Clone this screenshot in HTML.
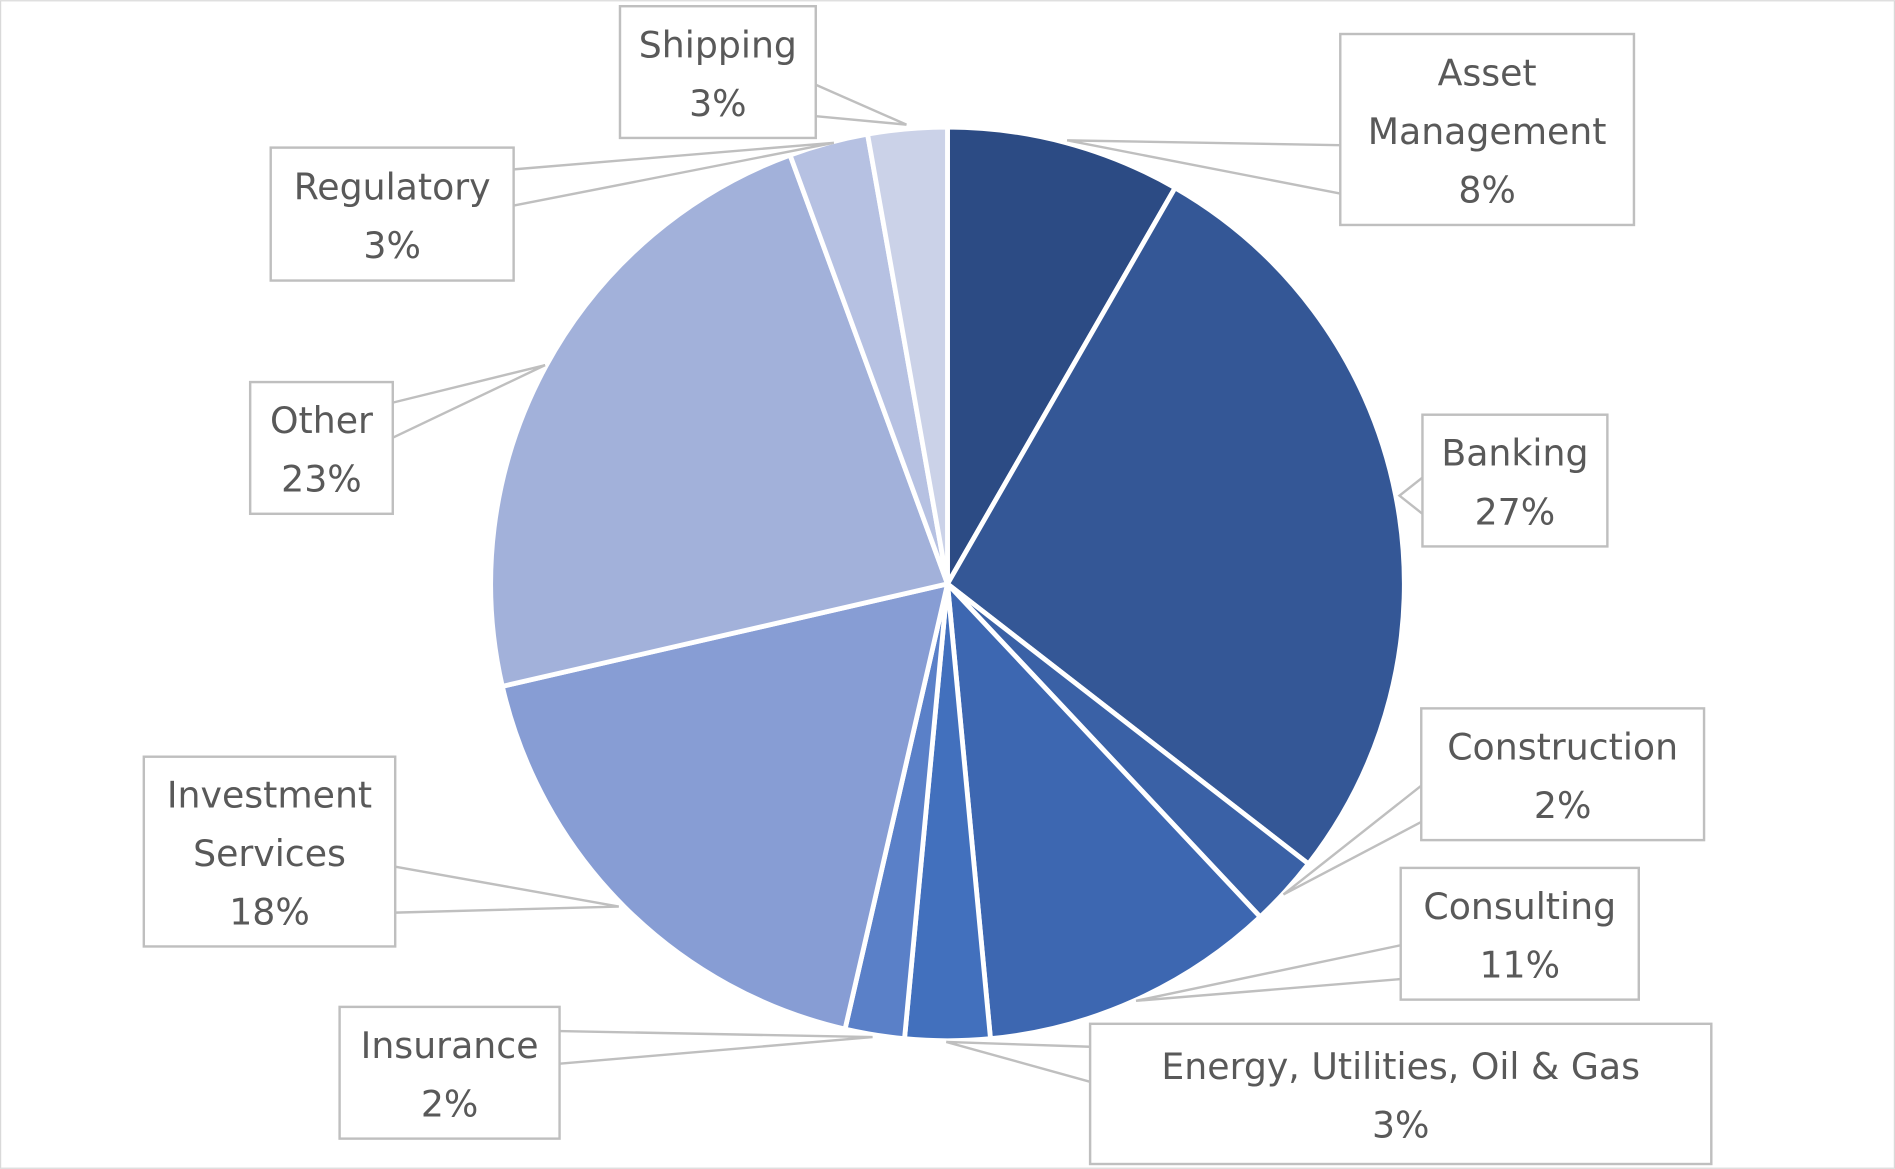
<!DOCTYPE html>
<html><head><meta charset="utf-8"><style>
html,body{margin:0;padding:0;background:#fff}
svg{display:block}
text{font-family:"DejaVu Sans","Liberation Sans",sans-serif;font-size:30px;fill:#595959;text-anchor:middle}
</style></head><body>
<svg id="chart" width="1895" height="1169" viewBox="0 0 1568 967" xmlns="http://www.w3.org/2000/svg">
<rect x="0.5" y="0.5" width="1567" height="966" fill="#fff" stroke="#d9d9d9"/>
<g id="slices"></g>
<g id="labels"></g>
</svg>
<script>
const categories=["Asset Management","Banking","Construction","Consulting","Energy, Utilities, Oil & Gas","Insurance","Investment Services","Other","Regulatory","Shipping"];
const values=[8.3,27.2,2.5,10.5,3.0,2.1,17.8,23.0,2.8,2.8];
const printed=["8%","27%","2%","11%","3%","2%","18%","23%","3%","3%"];
const colors=["#2c4b84","#345796","#3a61a6","#3d67b1","#4270bd","#5a80c8","#879dd4","#a2b1da","#b6c1e2","#cbd2e8"];
const layout=[
 {b:[1109,28,243,158],l:["Asset","Management"],a:[883,116],p:[[1109,120],[1109,160]]},
 {b:[1177,343,153,109],l:["Banking"],a:[1158,410],p:[[1177,395],[1177,425]]},
 {b:[1176,586,234,109],l:["Construction"],a:[1062,740],p:[[1176,650],[1176,680]]},
 {b:[1159,718,197,109],l:["Consulting"],a:[940,828],p:[[1159,782],[1159,810]]},
 {b:[902,847,514,116],l:["Energy, Utilities, Oil & Gas"],a:[783,862],p:[[902,866],[902,895]]},
 {b:[281,833,182,109],l:["Insurance"],a:[722,858],p:[[463,853],[463,880]]},
 {b:[119,626,208,157],l:["Investment","Services"],a:[512,750],p:[[327,717],[327,755]]},
 {b:[207,316,118,109],l:["Other"],a:[451,302],p:[[325,333],[325,362]]},
 {b:[224,122,201,110],l:["Regulatory"],a:[690,118],p:[[425,140],[425,170]]},
 {b:[513,5,162,109],l:["Shipping"],a:[750,103],p:[[675,70],[675,96]]}
];
const NS="http://www.w3.org/2000/svg";
const cx=784,cy=483,r=378;
const total=values.reduce((s,v)=>s+v,0);
function pt(frac,rad){const a=frac*2*Math.PI;return [cx+rad*Math.sin(a),cy-rad*Math.cos(a)];}
const gS=document.getElementById('slices'),gL=document.getElementById('labels');
let cum=0;
values.forEach((v,i)=>{
 const s=cum/total,e=(cum+v)/total;cum+=v;
 const p0=pt(s,r),p1=pt(e,r),large=(e-s)>0.5?1:0;
 const path=document.createElementNS(NS,'path');
 path.setAttribute('d',`M${cx},${cy} L${p0[0]},${p0[1]} A${r},${r} 0 ${large} 1 ${p1[0]},${p1[1]} Z`);
 path.setAttribute('fill',colors[i]);path.setAttribute('stroke','#fff');path.setAttribute('stroke-width','4');path.setAttribute('stroke-linejoin','round');
 
 
 gS.appendChild(path);
});
layout.forEach((L,i)=>{
 const g=document.createElementNS(NS,'g');
 
 
 const pl=document.createElementNS(NS,'polyline');
 pl.setAttribute('points',`${L.p[0][0]},${L.p[0][1]} ${L.a[0]},${L.a[1]} ${L.p[1][0]},${L.p[1][1]}`);
 pl.setAttribute('fill','none');pl.setAttribute('stroke','#bfbfbf');pl.setAttribute('stroke-width','2');
 g.appendChild(pl);
 const rc=document.createElementNS(NS,'rect');
 rc.setAttribute('x',L.b[0]);rc.setAttribute('y',L.b[1]);rc.setAttribute('width',L.b[2]);rc.setAttribute('height',L.b[3]);
 rc.setAttribute('fill','#fff');rc.setAttribute('stroke','#bfbfbf');rc.setAttribute('stroke-width','2');
 g.appendChild(rc);
 const lines=L.l.concat([printed[i]]);
 const mx=L.b[0]+L.b[2]/2,my=L.b[1]+L.b[3]/2,lh=48.5;
 lines.forEach((t,j)=>{
  const tx=document.createElementNS(NS,'text');
  tx.setAttribute('x',mx);tx.setAttribute('y',my+(j-(lines.length-1)/2)*lh+12);
  tx.textContent=t;g.appendChild(tx);
 });
 gL.appendChild(g);
});
</script>
</body></html>
